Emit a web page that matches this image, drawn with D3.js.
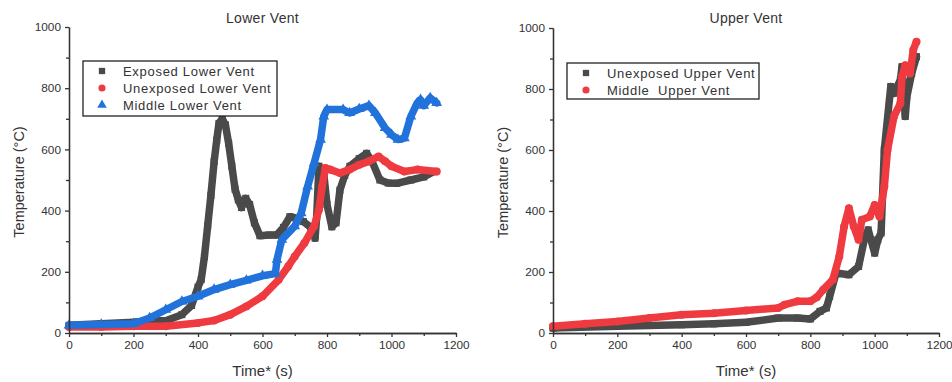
<!DOCTYPE html>
<html>
<head>
<meta charset="utf-8">
<script src="https://cdn.jsdelivr.net/npm/d3@7"></script>
<style>
  body { margin: 0; background: #fff; }
  text { font-family: "Liberation Sans", Arial, sans-serif; fill: #333; }
</style>
</head>
<body>
<div id="chart"></div>
<script>
// ---- data (time s, temperature °C) ----
const exposedLower = [[0,25],[100,30],[200,35],[250,40],[300,40],[350,60],[380,90],[400,150],[410,175],[420,250],[430,350],[440,450],[450,560],[458,630],[465,685],[475,700],[485,680],[495,620],[505,545],[515,470],[525,435],[535,410],[548,440],[560,420],[575,360],[592,318],[620,320],[644,320],[665,345],[685,380],[705,375],[727,364],[750,345],[763,310],[768,380],[775,545],[790,520],[800,420],[815,347],[828,360],[840,467],[855,515],[871,545],[900,570],[923,587],[940,560],[964,500],[990,490],[1016,489],[1060,500],[1100,510],[1130,527]];
const unexposedLower = [[0,20],[100,20],[200,22],[300,22],[400,33],[450,41],[500,60],[550,87],[600,120],[650,174],[680,218],[700,250],[730,294],[760,349],[775,403],[785,480],[795,539],[810,534],[840,523],[870,534],[900,550],[930,561],[960,577],[980,561],[1000,545],[1040,528],[1080,534],[1140,528]];
const middleLower = [[0,25],[100,28],[200,30],[250,49],[300,76],[350,103],[400,120],[450,142],[500,158],[550,172],[600,187],[640,194],[645,240],[660,305],[700,349],[720,392],[740,479],[760,555],[780,632],[790,708],[800,730],[850,730],[870,719],[900,732],[930,743],[950,719],[980,670],[1000,648],[1020,632],[1040,637],[1060,708],[1080,752],[1090,762],[1100,743],[1120,768],[1140,752]];

const unexposedUpper = [[0,16],[200,22],[400,27],[500,30],[600,35],[700,49],[760,49],[800,46],[830,71],[850,82],[860,120],[880,197],[920,191],[950,218],[970,317],[980,338],[1000,262],[1010,306],[1020,328],[1030,600],[1050,808],[1060,786],[1080,830],[1085,873],[1095,710],[1100,775],[1115,851],[1130,906]];
const middleUpper = [[0,22],[100,30],[200,38],[300,49],[400,60],[500,65],[600,74],[700,82],[720,93],[760,104],[800,104],[820,117],[840,142],[870,175],[890,251],[905,349],[920,409],[935,349],[950,306],[960,371],[985,382],[1000,420],[1015,382],[1030,480],[1040,600],[1060,710],[1080,753],[1085,840],[1095,878],[1110,851],[1120,928],[1130,955]];

const xTicks = [0, 200, 400, 600, 800, 1000, 1200];
const yTicks = [0, 200, 400, 600, 800, 1000];
const minorTicks = [100, 300, 500, 700, 900, 1100];
const yMinor = [100, 300, 500, 700, 900];

const GRAY = "#4a4a4a", RED = "#ef3a40", BLUE = "#2272db";

const panels = [
  { title: "Lower Vent", x0: 69, x1: 456, y0: 333, y1: 27,
    legend: { x: 83, y: 61, w: 194, h: 55 },
    series: [
      { name: "Exposed Lower Vent", data: exposedLower, color: GRAY, shape: d3.symbolSquare },
      { name: "Unexposed Lower Vent", data: unexposedLower, color: RED, shape: d3.symbolCircle },
      { name: "Middle Lower Vent", data: middleLower, color: BLUE, shape: d3.symbolTriangle }
    ] },
  { title: "Upper Vent", x0: 553, x1: 939, y0: 333, y1: 28,
    legend: { x: 567, y: 63, w: 192, h: 36 },
    series: [
      { name: "Unexposed Upper Vent", data: unexposedUpper, color: GRAY, shape: d3.symbolSquare },
      { name: "Middle  Upper Vent", data: middleUpper, color: RED, shape: d3.symbolCircle }
    ] }
];

const svg = d3.select("#chart").append("svg")
  .attr("width", 952).attr("height", 382);

panels.forEach(p => {
  const x = d3.scaleLinear().domain([0, 1200]).range([p.x0, p.x1]);
  const y = d3.scaleLinear().domain([0, 1000]).range([p.y0, p.y1]);
  const g = svg.append("g");

  // curves: thick line + markers
  const line = d3.line().x(d => x(d[0])).y(d => y(d[1]));
  p.series.forEach(s => {
    g.append("path").datum(s.data)
      .attr("d", line)
      .attr("fill", "none")
      .attr("stroke", s.color)
      .attr("stroke-width", 7.5)
      .attr("stroke-linejoin", "round")
      .attr("stroke-linecap", "round");
    g.selectAll(null).data(s.data).enter().append("path")
      .attr("d", d3.symbol().type(s.shape).size(50))
      .attr("transform", d => `translate(${x(d[0])},${y(d[1])})`)
      .attr("fill", s.color);
  });

  // axes
  const fmt = d3.format("d");
  g.append("g").attr("transform", `translate(0,${p.y0})`)
    .call(d3.axisBottom(x).tickValues(xTicks).tickFormat(fmt).tickSize(4).tickSizeOuter(0).tickPadding(4));
  g.append("g").attr("transform", `translate(0,${p.y0})`)
    .call(d3.axisBottom(x).tickValues(minorTicks).tickSize(3).tickFormat("").tickSizeOuter(0));
  g.append("g").attr("transform", `translate(${p.x0},0)`)
    .call(d3.axisLeft(y).tickValues(yTicks).tickFormat(fmt).tickSize(4).tickSizeOuter(0).tickPadding(4));
  g.append("g").attr("transform", `translate(${p.x0},0)`)
    .call(d3.axisLeft(y).tickValues(yMinor).tickSize(3).tickFormat("").tickSizeOuter(0));
  g.selectAll(".domain, .tick line").attr("stroke", "#333").attr("stroke-width", 1.3);
  g.selectAll(".tick text").attr("font-size", 11.8).style("fill", "#333");

  // titles
  const cx = (p.x0 + p.x1) / 2;
  g.append("text").attr("x", cx).attr("y", 23).attr("text-anchor", "middle")
    .attr("font-size", 14).attr("letter-spacing", 0.3).text(p.title);
  g.append("text").attr("x", cx).attr("y", 376).attr("text-anchor", "middle")
    .attr("font-size", 15).text("Time* (s)");
  g.append("text")
    .attr("transform", `translate(${p.x0 - 45},${(p.y0 + p.y1) / 2 + 2}) rotate(-90)`)
    .attr("text-anchor", "middle").attr("font-size", 14.5).text("Temperature (°C)");

  // legend
  const L = p.legend;
  g.append("rect").attr("x", L.x).attr("y", L.y).attr("width", L.w).attr("height", L.h)
    .attr("fill", "#fff").attr("stroke", "#222").attr("stroke-width", 1.3);
  p.series.forEach((s, i) => {
    const ry = L.y + 10 + i * 17;
    g.append("path")
      .attr("d", d3.symbol().type(s.shape).size(40))
      .attr("transform", `translate(${L.x + 19},${ry})`)
      .attr("fill", s.color);
    g.append("text").attr("x", L.x + 40).attr("y", ry + 4.5)
      .attr("font-size", 13).attr("letter-spacing", 0.7).style("white-space", "pre")
      .text(s.name);
  });
});
</script>
</body>
</html>
